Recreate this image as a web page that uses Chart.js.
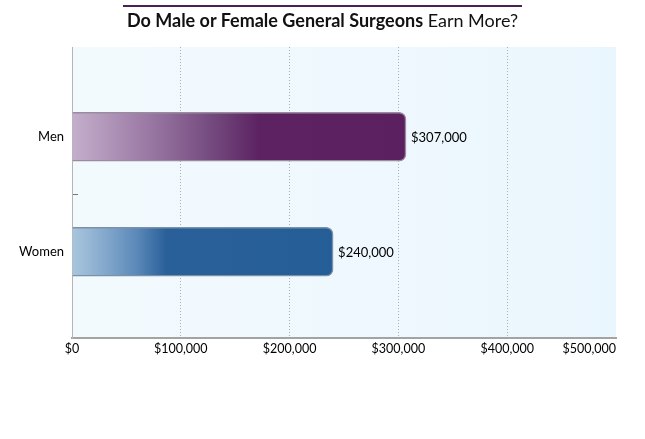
<!DOCTYPE html>
<html>
<head>
<meta charset="utf-8">
<script src="https://cdn.jsdelivr.net/npm/chart.js@4"></script>
<style>
  html, body { margin: 0; padding: 0; background: #fff; }
  #wrap { position: relative; width: 645px; height: 439px; }
  #title {
    position: absolute; left: 103px; top: 5px; width: 439px;
    text-align: center; font-family: Lato, "Open Sans", sans-serif;
    font-size: 18px; color: #111; padding-top: 4px; line-height: 22px;
  }
  #rule { position: absolute; left: 123px; top: 5px; width: 399px; border-top: 2px solid #4b2154; }
  #title b { font-weight: 700; }
  canvas { position: absolute; left: 0; top: 0; }
</style>
</head>
<body>
<div id="wrap">
  <canvas id="salaryChart" width="645" height="439"></canvas>
  <div id="rule"></div>
  <div id="title"><b>Do Male or Female General Surgeons</b> Earn More?</div>
</div>
<script>
// data
const categories = ["Men", "Women"];
const salaries = [307000, 240000];
const xTicks = [0, 100000, 200000, 300000, 400000, 500000];

// gradient stops per bar (light at the base, dark towards the end)
const barStops = [
  [[0, "#c4afcc"], [0.15, "#a98bb2"], [0.3, "#8c6896"], [0.45, "#6e4278"], [0.56, "#5c2262"], [1, "#5a2060"]],
  [[0, "#aac6de"], [0.12, "#86aacd"], [0.25, "#5a88b8"], [0.36, "#2a6099"], [1, "#255e97"]],
];
const barBorders = ["#9a8c9f", "#7c90a6"];

const money = v => "$" + v.toLocaleString("en-US");

function barGradient(c) {
  const chart = c.chart;
  if (!chart.chartArea || !chart.scales.x) return barStops[c.dataIndex][1][1];
  const x = chart.scales.x;
  const x0 = x.getPixelForValue(0);
  const x1 = x.getPixelForValue(salaries[c.dataIndex]);
  const g = chart.ctx.createLinearGradient(x0, 0, x1, 0);
  barStops[c.dataIndex].forEach(([p, col]) => g.addColorStop(p, col));
  return g;
}

const plotBackground = {
  id: "plotBackground",
  beforeDraw(chart) {
    const { ctx, chartArea: a } = chart;
    const g = ctx.createLinearGradient(a.left, 0, a.right, 0);
    g.addColorStop(0, "#f3fafe");
    g.addColorStop(1, "#eaf6fd");
    ctx.save();
    ctx.fillStyle = g;
    ctx.fillRect(a.left, a.top, a.right - a.left, a.bottom - a.top);
    ctx.restore();
  },
};

const labelsPlugin = {
  id: "labelsPlugin",
  afterDraw(chart) {
    const { ctx, chartArea: a } = chart;
    const x = chart.scales.x;
    ctx.save();
    ctx.font = "12.5px Lato, 'Open Sans', sans-serif";
    ctx.fillStyle = "#000";
    ctx.textBaseline = "middle";
    // x tick labels, last one kept inside the plot edge
    xTicks.forEach((v, i) => {
      const px = x.getPixelForValue(v);
      if (i === xTicks.length - 1) {
        ctx.textAlign = "right";
        ctx.fillText(money(v), a.right, 349);
      } else {
        ctx.textAlign = "center";
        ctx.fillText(money(v), px, 349);
      }
    });
    // value labels at the end of each bar
    ctx.textAlign = "left";
    ctx.font = "13px Lato, 'Open Sans', sans-serif";
    chart.getDatasetMeta(0).data.forEach((bar, i) => {
      ctx.fillText(money(salaries[i]), bar.x + 5, bar.y + 1);
    });
    // small tick between the two categories
    const y = chart.scales.y;
    const ym = Math.round(y.getPixelForValue(0.5)) + 0.5;
    ctx.strokeStyle = "#777";
    ctx.lineWidth = 1;
    ctx.beginPath();
    ctx.moveTo(a.left + 1, ym);
    ctx.lineTo(a.left + 6, ym);
    ctx.stroke();
    ctx.restore();
  },
};

new Chart(document.getElementById("salaryChart"), {
  type: "bar",
  data: {
    datasets: [
      {
        data: salaries.map((v, i) => ({ x: v, y: i })),
        backgroundColor: barGradient,
        borderColor: barBorders,
        borderWidth: 1.5,
        borderRadius: 7,
        borderSkipped: "start",
        barThickness: 49,
      },
    ],
  },
  options: {
    indexAxis: "y",
    responsive: false,
    animation: false,
    layout: { padding: { top: 47, right: 29, left: 0, bottom: 0 } },
    plugins: {
      legend: { display: false },
      tooltip: { enabled: false },
      title: { display: false },
    },
    scales: {
      x: {
        type: "linear",
        min: 0,
        max: 500000,
        afterFit: s => { s.height = 101; },
        ticks: { display: false, stepSize: 100000 },
        grid: {
          drawTicks: false,
          color: c => (c.tick && (c.tick.value === 0 || c.tick.value === 500000) ? "rgba(0,0,0,0)" : "#a9b0b4"),
          lineWidth: 1,
        },
        border: { display: true, color: "#a3a3a3", width: 2, dash: [1, 2] },
      },
      y: {
        type: "linear",
        offset: false,
        reverse: true,
        min: -0.78,
        max: 1.75,
        afterFit: s => { s.width = 72; },
        afterBuildTicks: s => {
          s.ticks = categories.map((_, i) => ({ value: i }));
        },
        ticks: {
          padding: 8,
          color: "#000",
          font: { family: "Lato, 'Open Sans', sans-serif", size: 13 },
          callback: v => categories[v] || "",
        },
        grid: { display: false, drawTicks: false, offset: false },
        border: { display: true, color: "#b5b5b5", width: 1 },
      },
    },
  },
  plugins: [plotBackground, labelsPlugin],
});
</script>
</body>
</html>
